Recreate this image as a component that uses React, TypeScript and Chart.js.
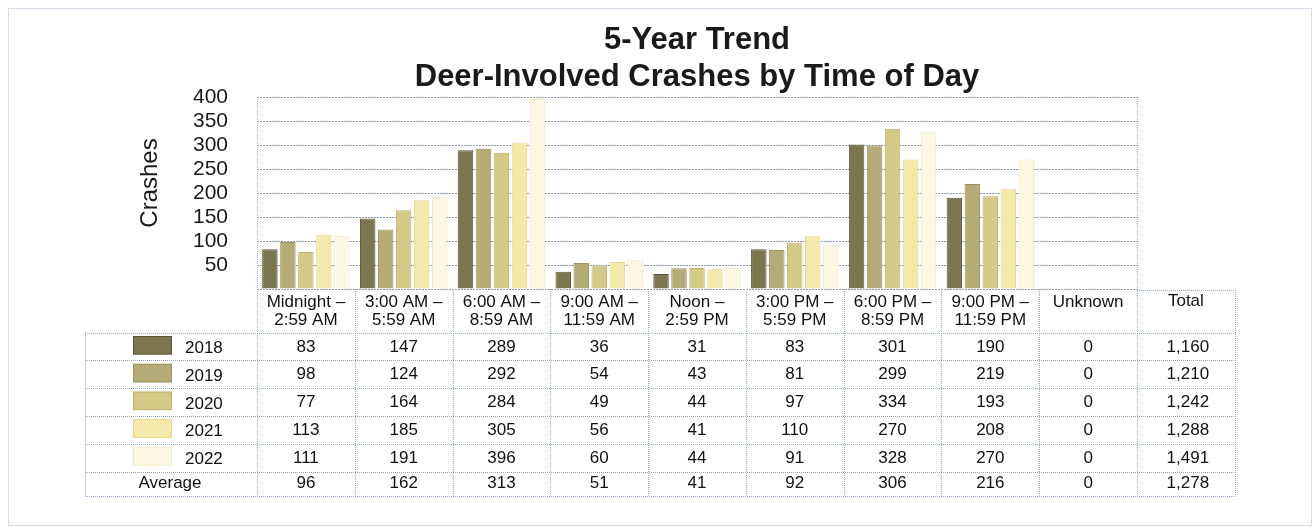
import { useEffect, useRef } from "react";
import { Chart, registerables } from "chart.js";

Chart.register(...registerables);

const FONT = "'Liberation Sans', Arial, Helvetica, sans-serif";

const categories: string[][] = [
  ["Midnight –", "2:59 AM"],
  ["3:00 AM –", "5:59 AM"],
  ["6:00 AM –", "8:59 AM"],
  ["9:00 AM –", "11:59 AM"],
  ["Noon –", "2:59 PM"],
  ["3:00 PM –", "5:59 PM"],
  ["6:00 PM –", "8:59 PM"],
  ["9:00 PM –", "11:59 PM"],
  ["Unknown"],
];
const years = ["2018", "2019", "2020", "2021", "2022"];
const values2018 = [83, 147, 289, 36, 31, 83, 301, 190, 0];
const values2019 = [98, 124, 292, 54, 43, 81, 299, 219, 0];
const values2020 = [77, 164, 284, 49, 44, 97, 334, 193, 0];
const values2021 = [113, 185, 305, 56, 41, 110, 270, 208, 0];
const values2022 = [111, 191, 396, 60, 44, 91, 328, 270, 0];
const seriesValues = [values2018, values2019, values2020, values2021, values2022];
const totals = [1160, 1210, 1242, 1288, 1491];
const averages = [96, 162, 313, 51, 41, 92, 306, 216, 0];
const averageTotal = 1278;
const yMax = 400;
const yStep = 50;

const barFill = ["#7b7650", "#b5ab77", "#d5c988", "#f4e9aa", "#fcf8e3"];
const barEdge = ["#5a5838", "#9c9262", "#bdb071", "#e4d791", "#efe8c8"];

const fmt = (n: number) => n.toLocaleString("en-US");

const tablePlugin = {
  id: "tablePlugin",
  beforeDraw(chart: any) {
    const { ctx } = chart;
    ctx.save();
    ctx.fillStyle = "#ffffff";
    ctx.fillRect(0, 0, chart.width, chart.height);
    ctx.restore();
  },
  afterDraw(chart: any) {
    const { ctx, chartArea } = chart;
    const n = categories.length;
    const w = (chartArea.right - chartArea.left) / n;
    const left = chartArea.left;
    const right = chartArea.right;
    const totalRight = right + w;
    const legendLeft = 85;
    const rowTop = 332.5;
    const rowH = 27.8;
    const avgH = 24;
    const rowsBottom = rowTop + rowH * years.length + avgH;

    const dotted = (x1: number, y1: number, x2: number, y2: number, color: string) => {
      ctx.save();
      ctx.strokeStyle = color;
      ctx.lineWidth = 1;
      ctx.setLineDash([1, 1]);
      ctx.beginPath();
      ctx.moveTo(x1, y1);
      ctx.lineTo(x2, y2);
      ctx.stroke();
      ctx.restore();
    };

    const blue = "#93a8cb";
    const gray = "#9aa3b3";

    // outer frame
    ctx.save();
    ctx.strokeStyle = "#a9bbd8";
    ctx.setLineDash([1, 1]);
    ctx.lineWidth = 1;
    ctx.strokeRect(8.5, 8.5, 1303, 517);
    ctx.restore();

    // plot frame sides
    dotted(Math.round(left) + 0.5, chartArea.top, Math.round(left) + 0.5, chartArea.bottom, blue);
    dotted(Math.round(right) + 0.5, chartArea.top, Math.round(right) + 0.5, chartArea.bottom, blue);

    // column separators
    for (let i = 0; i <= n; i++) {
      const x = Math.round(left + i * w) + 0.5;
      dotted(x, chartArea.bottom, x, rowsBottom, blue);
    }
    const tr = Math.round(totalRight) + 0.5;
    dotted(tr, chartArea.bottom + 1, tr, rowsBottom, blue);
    dotted(Math.round(right), chartArea.bottom + 1.5, tr, chartArea.bottom + 1.5, blue);
    dotted(legendLeft + 0.5, rowTop, legendLeft + 0.5, rowsBottom, blue);

    // row lines
    const rowYs: number[] = [];
    for (let r = 0; r <= years.length; r++) rowYs.push(rowTop + r * rowH);
    rowYs.push(rowsBottom);
    rowYs.forEach((y, idx) => {
      dotted(legendLeft, Math.round(y) + 0.5, tr, Math.round(y) + 0.5, idx % 2 ? gray : blue);
    });

    // header "Total"
    ctx.save();
    ctx.fillStyle = "#111111";
    ctx.font = `17px ${FONT}`;
    ctx.textAlign = "center";
    ctx.textBaseline = "middle";
    const totalCx = right + w / 2;
    ctx.fillText("Total", totalCx, 301.7);

    // data rows
    years.forEach((yr, r) => {
      const cy = rowTop + r * rowH + rowH / 2 + 0.5;
      const vals = seriesValues[r];
      vals.forEach((v, i) => {
        ctx.fillText(String(v), left + i * w + w / 2, cy);
      });
      ctx.fillText(fmt(totals[r]), totalCx + 2, cy);
      // swatch
      ctx.save();
      ctx.fillStyle = barFill[r];
      ctx.strokeStyle = barEdge[r];
      ctx.lineWidth = 1;
      const sy = rowTop + r * rowH + 3.5;
      ctx.fillRect(133, sy, 39, 18.5);
      ctx.strokeRect(133.5, sy + 0.5, 38, 17.5);
      ctx.restore();
      ctx.textAlign = "left";
      ctx.fillText(yr, 185, cy + 1.5);
      ctx.textAlign = "center";
    });
    const acy = rowTop + rowH * years.length + avgH / 2;
    averages.forEach((v, i) => {
      ctx.fillText(String(v), left + i * w + w / 2, acy);
    });
    ctx.fillText(fmt(averageTotal), totalCx + 2, acy);
    ctx.fillText("Average", 170, acy);

    // y-axis title
    ctx.font = `24px ${FONT}`;
    ctx.fillStyle = "#1a1a1a";
    ctx.translate(150, 183);
    ctx.rotate(-Math.PI / 2);
    ctx.fillText("Crashes", 0, 0);
    ctx.restore();
  },
};

export default function App() {
  const ref = useRef<HTMLCanvasElement | null>(null);
  useEffect(() => {
    if (!ref.current) return;
    const chart = new Chart(ref.current, {
      type: "bar",
      data: {
        labels: categories,
        datasets: years.map((yr, i) => ({
          label: yr,
          data: seriesValues[i],
          backgroundColor: barFill[i],
          borderColor: barEdge[i],
          borderWidth: 1,
          barPercentage: 0.86,
          categoryPercentage: 0.92,
        })),
      },
      options: {
        responsive: false,
        animation: false,
        devicePixelRatio: 1,
        layout: { padding: { left: 0, right: 177, top: 0, bottom: 0 } },
        plugins: {
          legend: { display: false },
          tooltip: { enabled: false },
          title: {
            display: true,
            text: ["5-Year Trend", "Deer-Involved Crashes by Time of Day"],
            fullSize: false,
            color: "#1a1a1a",
            font: { family: FONT, size: 31, weight: "bold", lineHeight: 1.184 },
            padding: { top: 22, bottom: 1.6 },
          },
        },
        scales: {
          x: {
            grid: { display: false, drawTicks: false },
            border: { display: false },
            ticks: {
              color: "#111111",
              font: { family: FONT, size: 17, lineHeight: 1.08 },
              padding: 4,
              maxRotation: 0,
              minRotation: 0,
              autoSkip: false,
            },
            afterFit: (scale: any) => {
              scale.height = 240;
            },
          },
          y: {
            min: 0,
            max: yMax,
            grid: { color: "#8d97a8", lineWidth: 1, drawTicks: false },
            border: { display: false, dash: [2, 1] },
            ticks: {
              stepSize: yStep,
              autoSkip: false,
              color: "#1a1a1a",
              font: { family: FONT, size: 21 },
              padding: 29,
              callback: (v: any) => (Number(v) === 0 ? "" : String(v)),
            },
            afterFit: (scale: any) => {
              scale.width = 257;
            },
          },
        },
      },
      plugins: [tablePlugin],
    } as any);
    return () => chart.destroy();
  }, []);
  return (
    <div style={{ position: "absolute", left: 0, top: 0, width: 1314, height: 529, overflow: "hidden", background: "#fff" }}>
      <canvas ref={ref} width={1314} height={529} style={{ display: "block" }} />
    </div>
  );
}
